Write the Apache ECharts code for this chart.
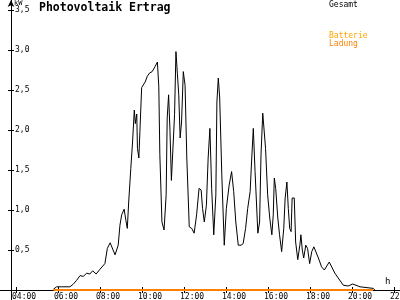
<!DOCTYPE html>
<html>
<head>
<meta charset="utf-8">
<script src="https://cdn.jsdelivr.net/npm/echarts@6/dist/echarts.min.js"></script>
<style>html,body{margin:0;padding:0;background:#fff;}#c{width:400px;height:300px;}</style>
</head>
<body>
<div id="c"></div>
<script>
// Gesamt (kW) readings, time of day
var gesamtTimes = ["5:47","5:56","6:11","6:34","6:43","6:53","7:03","7:12","7:22","7:31","7:39","7:49","8:00","8:14","8:21","8:29","8:43","8:52","8:57","9:02","9:09","9:14","9:18","9:22","9:28","9:33","9:38","9:41","9:45","9:47","9:51","9:54","9:59","10:09","10:15","10:21","10:23","10:29","10:37","10:44","10:48","10:51","10:57","11:03","11:09","11:12","11:16","11:20","11:24","11:29","11:33","11:37","11:41","11:45","11:49","11:53","11:58","12:03","12:08","12:15","12:22","12:29","12:36","12:43","12:49","12:53","12:58","13:04","13:09","13:14","13:19","13:25","13:31","13:34","13:38","13:42","13:48","13:55","14:01","14:09","14:16","14:22","14:28","14:35","14:43","14:49","14:56","15:02","15:09","15:13","15:18","15:23","15:27","15:31","15:36","15:40","15:45","15:49","15:53","15:59","16:05","16:11","16:15","16:18","16:22","16:28","16:33","16:39","16:45","16:49","16:54","16:58","17:02","17:06","17:09","17:15","17:19","17:25","17:31","17:34","17:38","17:42","17:48","17:53","17:59","18:05","18:11","18:16","18:24","18:33","18:41","18:55","19:11","19:35","19:49","20:02","20:23","21:01","21:05"];
var gesamtValues = [0.01,0.04,0.04,0.04,0.07,0.12,0.18,0.17,0.21,0.20,0.24,0.20,0.26,0.33,0.52,0.59,0.44,0.56,0.81,0.94,1.01,0.87,0.77,1.10,1.52,1.85,2.25,2.08,2.20,1.77,1.65,1.98,2.53,2.60,2.67,2.71,2.69,2.73,2.79,2.85,2.54,1.69,0.85,0.75,1.19,2.15,2.44,1.98,1.37,1.35,2.19,2.98,2.71,2.44,1.90,2.10,2.73,2.56,1.65,0.79,0.77,0.71,0.94,1.27,1.25,1.02,0.85,1.06,1.65,2.02,1.27,0.69,1.19,2.35,2.65,2.40,1.44,0.56,1.02,1.31,1.48,1.23,0.85,0.56,0.56,0.58,0.77,1.02,1.23,1.60,2.02,1.48,1.10,0.71,0.85,1.69,2.21,2.23,1.77,1.19,0.90,0.69,0.94,1.40,1.27,0.90,0.69,0.48,0.77,1.15,1.35,1.02,0.77,0.73,1.15,1.15,0.60,0.38,0.56,0.69,0.50,0.40,0.56,0.52,0.33,0.48,0.54,0.53,0.40,0.29,0.25,0.35,0.21,0.06,0.05,0.075,0.04,0.02,0.0];
// Batterie Ladung (kW)
var ladungTimes = ["5:47","21:00"];
var ladungValues = [0, 0];
// axis ticks
var xTickHours = [4,6,8,10,12,14,16,18,20,22];
var yTickValues = [0.5,1.0,1.5,2.0,2.5,3.0,3.5];

function toH(t){var p=t.split(':');return +p[0]+(+p[1])/60;}
function pairs(ts,vs){return ts.map(function(t,i){return [toH(t),vs[i]];});}

var XMIN = 4 - 16/21, XMAX = XMIN + 400/21;
var mono = 'DejaVu Sans Mono';
var chart = echarts.init(document.getElementById('c'), null, {renderer:'canvas'});
function fmtH(v){var h=Math.round(v);return (h<10?'0':'')+h+':00';}
var xCommon = {type:'value',min:XMIN,max:XMAX,position:'bottom',splitLine:{show:false}};
var yCommon = {type:'value',min:0,max:3.625,position:'left',offset:-11,splitLine:{show:false}};
function tt(text,left,top,size,color,bold){
  return {text:text,left:left,top:top,padding:0,itemGap:0,textStyle:{fontFamily:mono,fontSize:size,fontWeight:bold?'bold':'normal',color:color}};
}
chart.setOption({
  animation:false,
  backgroundColor:'#fff',
  title:[
    tt('Photovoltaik Ertrag',39,2,11.5,'#000',true),
    tt('Gesamt',329,1,8,'#000'),
    tt('Batterie',329,32,8,'#FFA500'),
    tt('Ladung',329,40,8,'#FF8000'),
    tt('kW',14,0,7,'#000'),
    tt('h',385,277,9,'#000')
  ],
  grid:{left:0,right:0,top:0,bottom:10,containLabel:false,outerBoundsMode:'none'},
  graphic:[
    {type:'line',shape:{x1:11.5,y1:290,x2:11.5,y2:300},style:{stroke:'#000',lineWidth:1},silent:true}
  ],
  xAxis:[
    Object.assign({},xCommon,{
      axisLine:{onZero:false,lineStyle:{color:'#000',width:1}},
      axisTick:{show:true,length:3,inside:false,customValues:xTickHours,lineStyle:{color:'#000'}},
      axisLabel:{show:true,customValues:xTickHours,formatter:fmtH,fontFamily:mono,fontSize:8,color:'#000',margin:3,align:'left',padding:[0,0,0,-4],hideOverlap:false}
    }),
    Object.assign({},xCommon,{
      axisLine:{show:false,onZero:false},
      axisTick:{show:true,length:3,inside:true,customValues:xTickHours,lineStyle:{color:'#000'}},
      axisLabel:{show:false}
    })
  ],
  yAxis:[
    Object.assign({},yCommon,{
      axisLine:{show:true,onZero:false,lineStyle:{color:'#000',width:1},symbol:['none','arrow'],symbolSize:[5,7]},
      axisTick:{show:true,length:3,inside:false,customValues:yTickValues,lineStyle:{color:'#000'}},
      axisLabel:{show:true,inside:true,margin:4,customValues:yTickValues,formatter:function(v){return v.toFixed(1).replace('.',',');},fontFamily:mono,fontSize:8,color:'#000'}
    }),
    Object.assign({},yCommon,{
      axisLine:{show:false,onZero:false},
      axisTick:{show:true,length:3,inside:true,customValues:yTickValues,lineStyle:{color:'#000'}},
      axisLabel:{show:false}
    })
  ],
  series:[
    {name:'Gesamt',type:'line',xAxisIndex:0,yAxisIndex:0,data:pairs(gesamtTimes,gesamtValues),showSymbol:false,symbol:'none',lineStyle:{color:'#000',width:1},itemStyle:{color:'#000'}},
    {name:'Ladung',type:'line',xAxisIndex:0,yAxisIndex:0,data:pairs(ladungTimes,ladungValues),showSymbol:false,symbol:'none',lineStyle:{color:'#FF8000',width:2},itemStyle:{color:'#FF8000'}}
  ]
});
</script>
</body>
</html>
